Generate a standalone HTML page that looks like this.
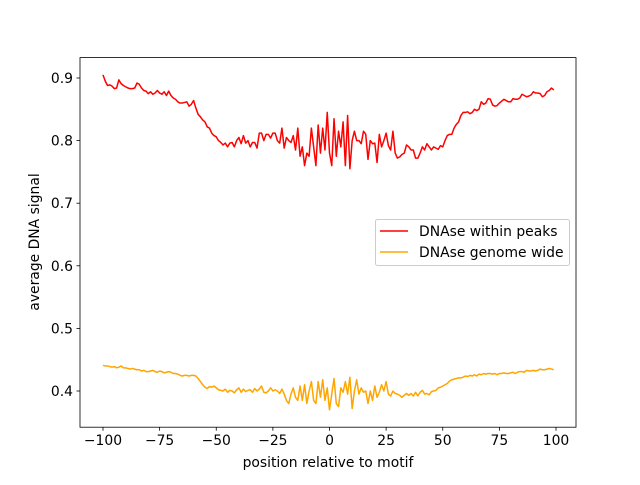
<!DOCTYPE html>
<html><head><meta charset="utf-8"><style>
body{margin:0;background:#fff}
svg text{font-family:"DejaVu Sans","Liberation Sans",sans-serif;font-size:13.9px;fill:#000}
</style></head><body>
<svg id="chart" width="640" height="480" xmlns="http://www.w3.org/2000/svg">
<rect width="640" height="480" fill="#fff"/>
<g id="plot"></g>
<rect x="80" y="57.6" width="496" height="369.6" fill="none" stroke="#000" stroke-width="0.8"/>
<g id="xt"></g><g id="yt"></g>
<text x="328" y="467" text-anchor="middle">position relative to motif</text>
<text transform="translate(39,242) rotate(-90)" text-anchor="middle">average DNA signal</text>
<g>
<rect x="375.5" y="219.5" width="194" height="46" rx="2" fill="#fff" fill-opacity="0.8" stroke="#ccc"/>
<g><line x1="380" y1="231" x2="408" y2="231" stroke="#ff0000" stroke-width="1.5"/><text x="419" y="236">DNAse within peaks</text></g>
<g><line x1="380" y1="252" x2="408" y2="252" stroke="#ffa500" stroke-width="1.5"/><text x="419" y="257">DNAse genome wide</text></g>
</g>
</svg>
<script>
const positionsStart = -100;
const withinPeaks = [.905,.895,.888,.889,.887,.883,.884,.897,.891,.888,
.886,.884,.883,.883,.884,.892,.890,.884,.880,.879,
.875,.878,.874,.876,.880,.876,.874,.878,.872,.879,
.872,.868,.866,.862,.860,.860,.861,.862,.855,.858,
.864,.852,.842,.838,.833,.830,.822,.820,.812,.808,
.806,.800,.797,.793,.796,.790,.796,.797,.790,.800,
.805,.795,.808,.796,.800,.790,.797,.797,.788,.812,
.812,.800,.810,.810,.804,.812,.812,.800,.796,.820,
.788,.805,.800,.797,.808,.785,.820,.775,.790,.760,
.780,.775,.820,.790,.760,.825,.780,.820,.785,.845,
.780,.760,.835,.775,.815,.790,.830,.760,.840,.755,
.800,.815,.800,.800,.795,.815,.810,.770,.800,.795,
.796,.765,.810,.790,.800,.812,.792,.785,.815,.780,
.772,.774,.778,.780,.793,.790,.785,.785,.772,.772,
.780,.790,.785,.795,.790,.785,.790,.788,.786,.792,
.790,.800,.808,.810,.810,.820,.826,.830,.840,.845,
.845,.846,.843,.845,.850,.848,.850,.862,.858,.860,
.867,.866,.857,.855,.856,.860,.863,.866,.864,.862,
.862,.867,.866,.866,.868,.874,.872,.870,.871,.873,
.878,.876,.876,.875,.870,.872,.878,.880,.884,.881];
const genomeWide = [.441,.440,.440,.439,.438,.439,.437,.438,.440,.437,
.437,.436,.435,.436,.435,.434,.434,.432,.433,.431,
.431,.432,.433,.431,.430,.432,.431,.429,.430,.431,
.430,.428,.428,.427,.425,.424,.425,.425,.424,.425,
.425,.424,.420,.415,.410,.406,.404,.407,.406,.408,
.405,.402,.401,.400,.403,.398,.401,.400,.397,.402,
.405,.398,.403,.399,.401,.402,.398,.404,.400,.403,
.408,.398,.397,.400,.405,.400,.402,.400,.396,.403,
.395,.385,.380,.395,.405,.390,.385,.408,.385,.410,
.380,.400,.415,.385,.380,.415,.390,.418,.385,.405,
.370,.395,.420,.380,.375,.405,.398,.415,.395,.422,
.372,.400,.418,.395,.405,.398,.400,.380,.400,.385,
.408,.390,.398,.410,.400,.415,.395,.392,.400,.396,
.395,.393,.390,.393,.396,.393,.396,.392,.398,.392,
.398,.401,.395,.396,.394,.399,.400,.401,.405,.406,
.408,.410,.412,.416,.418,.419,.420,.421,.421,.422,
.424,.423,.425,.424,.426,.424,.427,.426,.428,.427,
.428,.428,.427,.428,.426,.428,.428,.429,.428,.428,
.429,.430,.428,.430,.431,.431,.430,.433,.432,.432,
.433,.432,.433,.435,.434,.434,.435,.436,.435,.434];
const xTicks = [-100,-75,-50,-25,0,25,50,75,100];
const yTicks = [0.4,0.5,0.6,0.7,0.8,0.9];
const NS='http://www.w3.org/2000/svg';
const X = v => 329.5 + v*2.265;
const Y = v => 391 - (v-0.4)*626;
function mk(t,a){const e=document.createElementNS(NS,t);for(const k in a)e.setAttribute(k,a[k]);return e;}
const plot=document.getElementById('plot');
function line(vals,color,name){
  const d=vals.map((v,i)=>(i?'L':'M')+X(positionsStart+i).toFixed(2)+' '+Y(v).toFixed(2)).join(' ');
  const p=mk('path',{d:d,fill:'none',stroke:color,'stroke-width':1.5,'stroke-linejoin':'round'});
  
  
  plot.appendChild(p);
}
line(withinPeaks,'#ff0000','series-within-peaks');
line(genomeWide,'#ffa500','series-genome-wide');
const xt=document.getElementById('xt'),yt=document.getElementById('yt');
xTicks.forEach(t=>{
  const g=mk('g',{});
  
  
  g.appendChild(mk('line',{x1:X(t),x2:X(t),y1:427.2,y2:430.7,stroke:'#000','stroke-width':0.8}));
  const tx=mk('text',{x:X(t),y:445,'text-anchor':'middle'});tx.textContent=String(t).replace('-','\u2212');
  g.appendChild(tx);xt.appendChild(g);
});
yTicks.forEach(t=>{
  const g=mk('g',{});
  
  
  g.appendChild(mk('line',{x1:76.5,x2:80,y1:Y(t),y2:Y(t),stroke:'#000','stroke-width':0.8}));
  const tx=mk('text',{x:73,y:Y(t)+5,'text-anchor':'end'});tx.textContent=t.toFixed(1);
  g.appendChild(tx);yt.appendChild(g);
});
</script>
</body></html>
